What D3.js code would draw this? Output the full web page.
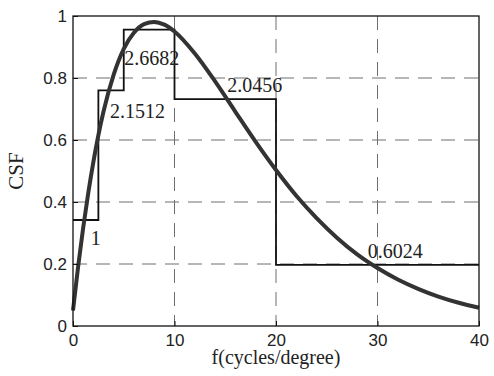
<!DOCTYPE html>
<html>
<head>
<meta charset="utf-8">
<script src="https://cdn.jsdelivr.net/npm/d3@7"></script>
<style>
  body { margin: 0; background: #fff; }
  svg { display: block; }
</style>
</head>
<body>
<svg id="chart" width="494" height="376"></svg>
<script>
// CSF curve samples
const curveF = [0, 0.5, 1, 1.5, 2, 3, 4, 5, 6, 7, 8, 9, 10, 12, 14, 16, 18, 20, 22, 24, 26, 28, 30, 32, 34, 36, 38, 40];
const curveCsf = [0.05, 0.19, 0.316, 0.428, 0.528, 0.691, 0.81, 0.894, 0.946, 0.974, 0.981, 0.972, 0.95, 0.879, 0.789, 0.691, 0.594, 0.503, 0.42, 0.348, 0.285, 0.231, 0.187, 0.15, 0.12, 0.095, 0.075, 0.059];

// step approximation: band edges and level of each band
const stepEdges = [0, 2.5, 5, 10, 20, 40];
const stepLevels = [0.342, 0.76, 0.956, 0.732, 0.197];

// band labels
const labelText = ['1', '2.1512', '2.6682', '2.0456', '0.6024'];
const labelX = [1.75, 3.65, 5.05, 15.2, 29.05];
const labelY = [0.26, 0.671, 0.842, 0.755, 0.219];

const xTicks = [0, 10, 20, 30, 40];
const yTicks = [0, 0.2, 0.4, 0.6, 0.8, 1];

const svg = d3.select('#chart');
const margin = { top: 16, right: 15, bottom: 50, left: 73 };
const width = 494, height = 376;
const innerWidth = width - margin.left - margin.right;
const innerHeight = height - margin.top - margin.bottom;

const x = d3.scaleLinear().domain([0, 40]).range([0, innerWidth]);
const y = d3.scaleLinear().domain([0, 1]).range([innerHeight, 0]);

const g = svg.append('g').attr('transform', `translate(${margin.left},${margin.top})`);

// dashed grid
g.append('g').selectAll('line')
  .data(xTicks.filter(d => d > 0 && d < 40))
  .join('line')
  .attr('x1', d => x(d)).attr('x2', d => x(d))
  .attr('y1', 0).attr('y2', innerHeight)
  .attr('stroke', '#6e6e6e').attr('stroke-width', 1)
  .attr('stroke-dasharray', '14,9');

g.append('g').selectAll('line')
  .data(yTicks.filter(d => d > 0 && d < 1))
  .join('line')
  .attr('x1', 0).attr('x2', innerWidth)
  .attr('y1', d => y(d)).attr('y2', d => y(d))
  .attr('stroke', '#6e6e6e').attr('stroke-width', 1)
  .attr('stroke-dasharray', '14,9');

// step function
const stepData = stepLevels.map((v, i) => ({ f: stepEdges[i], v }));
stepData.push({ f: stepEdges[stepEdges.length - 1], v: stepLevels[stepLevels.length - 1] });
const stepLine = d3.line()
  .x(d => x(d.f))
  .y(d => y(d.v))
  .curve(d3.curveStepAfter);

g.append('path')
  .datum(stepData)
  .attr('fill', 'none')
  .attr('stroke', '#111')
  .attr('stroke-width', 1.8)
  .attr('d', stepLine);

// CSF curve
const curveData = curveF.map((f, i) => ({ f, v: curveCsf[i] }));
const line = d3.line()
  .x(d => x(d.f))
  .y(d => y(d.v))
  .curve(d3.curveMonotoneX);

g.append('path')
  .datum(curveData)
  .attr('fill', 'none')
  .attr('stroke', '#333')
  .attr('stroke-width', 4)
  .attr('stroke-linejoin', 'round')
  .attr('d', line);

// band labels
g.append('g').selectAll('text')
  .data(labelText)
  .join('text')
  .attr('x', (d, i) => x(labelX[i]))
  .attr('y', (d, i) => y(labelY[i]))
  .attr('font-family', '"Liberation Serif", "Times New Roman", serif')
  .attr('font-size', 20)
  .attr('fill', '#222')
  .text(d => d);

// axes box
g.append('rect')
  .attr('x', 0).attr('y', 0)
  .attr('width', innerWidth).attr('height', innerHeight)
  .attr('fill', 'none').attr('stroke', '#111').attr('stroke-width', 1.3);

const xAxis = d3.axisBottom(x).tickValues(xTicks).tickSize(-5).tickPadding(8).tickFormat(d3.format('d'));
const yAxis = d3.axisLeft(y).tickValues(yTicks).tickSize(-5).tickPadding(6).tickFormat(d => d === 0 || d === 1 ? d : d3.format('.1f')(d));

const xg = g.append('g').attr('transform', `translate(0,${innerHeight})`).call(xAxis);
const yg = g.append('g').call(yAxis);
[xg, yg].forEach(a => {
  a.select('.domain').remove();
  a.selectAll('.tick line').attr('stroke', '#111');
  a.selectAll('.tick text')
    .attr('font-family', '"Liberation Sans", Arial, sans-serif')
    .attr('font-size', 17)
    .attr('fill', '#222');
});

// axis titles
g.append('text')
  .attr('x', innerWidth / 2)
  .attr('y', innerHeight + 38)
  .attr('text-anchor', 'middle')
  .attr('font-family', '"Liberation Serif", "Times New Roman", serif')
  .attr('font-size', 20)
  .attr('fill', '#222')
  .text('f(cycles/degree)');

g.append('text')
  .attr('transform', 'rotate(-90)')
  .attr('x', -innerHeight / 2)
  .attr('y', -50)
  .attr('text-anchor', 'middle')
  .attr('font-family', '"Liberation Serif", "Times New Roman", serif')
  .attr('font-size', 21)
  .attr('fill', '#222')
  .text('CSF');
</script>
</body>
</html>
